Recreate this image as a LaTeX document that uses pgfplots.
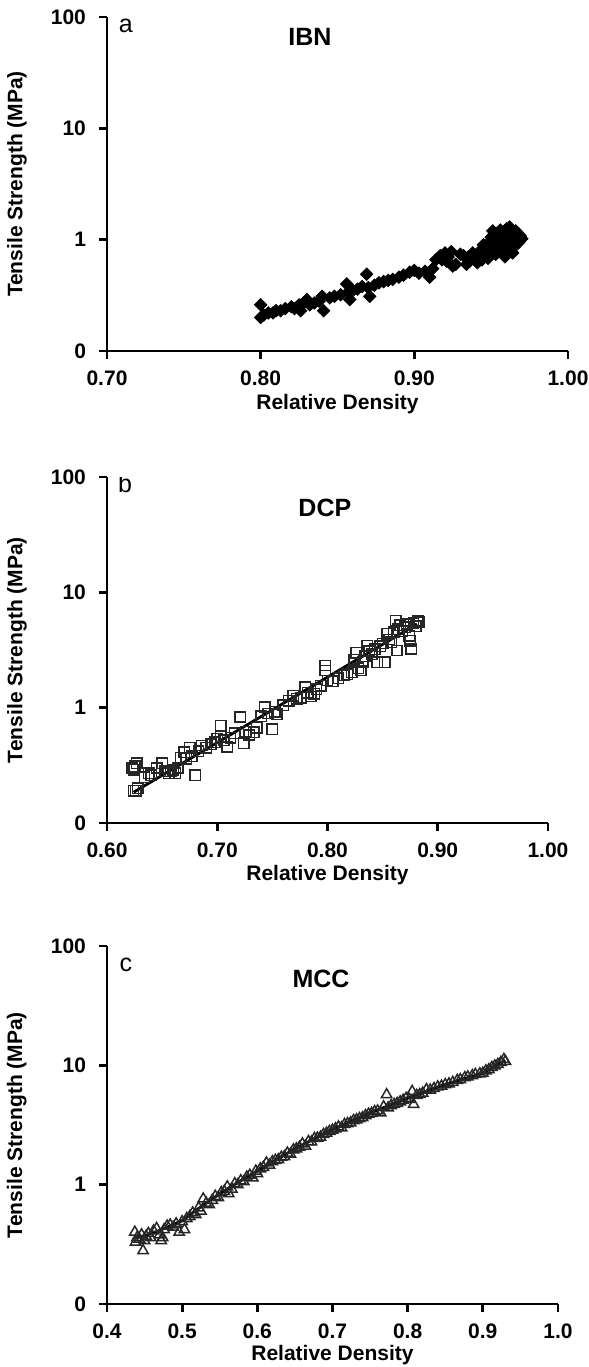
\documentclass[border=0pt]{standalone}
\usepackage{fontspec}
\setmainfont{Liberation Sans}
\usepackage{pgfplots}
\pgfplotsset{compat=1.18}

\pgfplotstableread{
x y
0.800 0.20
0.800 0.26
0.802 0.21
0.805 0.22
0.808 0.22
0.810 0.23
0.813 0.23
0.816 0.24
0.820 0.25
0.822 0.24
0.825 0.26
0.826 0.23
0.828 0.27
0.830 0.29
0.832 0.26
0.835 0.27
0.838 0.28
0.840 0.31
0.841 0.23
0.845 0.30
0.848 0.31
0.852 0.32
0.856 0.40
0.857 0.34
0.858 0.29
0.860 0.35
0.863 0.36
0.866 0.38
0.869 0.49
0.870 0.37
0.871 0.31
0.874 0.39
0.877 0.41
0.880 0.42
0.883 0.43
0.886 0.44
0.890 0.46
0.893 0.48
0.897 0.51
0.900 0.53
0.903 0.50
0.907 0.52
0.910 0.46
0.912 0.55
0.914 0.66
0.917 0.72
0.920 0.76
0.922 0.70
0.924 0.78
0.925 0.58
0.927 0.60
0.930 0.74
0.932 0.72
0.934 0.60
0.936 0.64
0.938 0.76
0.940 0.70
0.941 0.62
0.943 0.80
0.944 0.66
0.945 0.90
0.946 0.72
0.947 0.84
0.948 0.68
0.949 0.95
0.950 1.05
0.950 0.78
0.951 1.20
0.952 0.88
0.953 0.74
0.954 1.00
0.955 0.92
0.955 1.10
0.956 0.82
0.957 1.15
0.958 0.96
0.958 0.78
0.959 1.05
0.960 0.88
0.960 1.25
0.961 1.00
0.962 1.30
0.962 0.84
0.963 0.94
0.964 1.15
0.964 0.76
0.965 1.05
0.966 0.90
0.966 1.20
0.967 1.00
0.968 0.95
0.969 1.08
0.970 1.02
0.952 1.12
0.956 1.22
0.959 0.70
0.961 0.80
0.963 1.22
0.965 0.86
0.968 1.12
0.957 0.88
0.953 0.96
0.949 0.82
0.946 0.78
0.942 0.74
0.939 0.68
0.935 0.70
0.918 0.66
0.921 0.64
}\ibn

\pgfplotstableread{
x y
0.623 0.30
0.624 0.29
0.625 0.31
0.627 0.33
0.624 0.19
0.626 0.19
0.628 0.20
0.634 0.25
0.638 0.27
0.640 0.26
0.645 0.30
0.650 0.33
0.653 0.28
0.656 0.27
0.658 0.28
0.660 0.29
0.662 0.27
0.664 0.30
0.667 0.37
0.670 0.41
0.672 0.36
0.675 0.45
0.677 0.38
0.680 0.26
0.683 0.42
0.686 0.47
0.690 0.45
0.694 0.48
0.698 0.50
0.700 0.54
0.703 0.70
0.703 0.56
0.706 0.52
0.709 0.46
0.712 0.55
0.716 0.60
0.721 0.83
0.724 0.49
0.726 0.62
0.729 0.58
0.733 0.61
0.736 0.67
0.740 0.84
0.743 1.01
0.746 0.89
0.750 0.65
0.752 0.92
0.754 0.88
0.760 1.05
0.765 1.15
0.769 1.27
0.772 1.20
0.776 1.22
0.780 1.50
0.782 1.35
0.785 1.25
0.788 1.32
0.790 1.45
0.794 1.55
0.798 2.32
0.798 2.10
0.800 1.72
0.805 1.70
0.810 1.80
0.815 1.90
0.818 1.95
0.822 2.03
0.824 2.60
0.826 3.00
0.828 2.20
0.830 2.10
0.832 2.50
0.834 2.80
0.836 3.45
0.838 3.10
0.840 2.90
0.843 3.20
0.845 2.48
0.848 3.40
0.850 3.60
0.852 2.48
0.854 4.36
0.856 3.90
0.858 3.70
0.860 4.50
0.862 5.69
0.863 3.13
0.864 4.80
0.866 5.20
0.868 4.60
0.870 5.00
0.872 5.32
0.874 4.20
0.875 3.82
0.876 3.23
0.878 5.40
0.880 5.10
0.882 5.69
0.883 5.50
}\dcp

\pgfplotstableread{
x y
0.437 0.40
0.438 0.33
0.440 0.36
0.443 0.35
0.446 0.38
0.448 0.28
0.450 0.34
0.452 0.37
0.455 0.39
0.458 0.36
0.462 0.41
0.466 0.43
0.470 0.38
0.472 0.34
0.474 0.36
0.476 0.42
0.480 0.45
0.484 0.46
0.488 0.44
0.492 0.47
0.496 0.40
0.500 0.49
0.503 0.42
0.506 0.52
0.510 0.54
0.514 0.58
0.518 0.56
0.522 0.64
0.525 0.60
0.528 0.76
0.532 0.70
0.536 0.68
0.540 0.74
0.544 0.80
0.548 0.78
0.552 0.86
0.556 0.88
0.560 0.96
0.562 0.84
0.566 0.92
0.570 1.02
0.574 1.00
0.578 1.08
0.582 1.06
0.586 1.16
0.590 1.20
0.594 1.14
0.598 1.30
0.600 1.24
0.604 1.36
0.608 1.40
0.612 1.52
0.616 1.46
0.620 1.56
0.624 1.60
0.628 1.62
0.632 1.70
0.636 1.72
0.640 1.84
0.644 1.80
0.648 1.96
0.652 2.00
0.656 2.06
0.660 2.20
0.664 2.10
0.668 2.30
0.672 2.28
0.676 2.44
0.680 2.46
0.684 2.50
0.688 2.64
0.692 2.70
0.696 2.80
0.700 2.86
0.704 2.94
0.708 3.05
0.712 3.00
0.716 3.20
0.720 3.25
0.724 3.30
0.728 3.45
0.732 3.50
0.736 3.58
0.740 3.64
0.744 3.80
0.748 3.90
0.752 3.96
0.756 4.10
0.760 4.15
0.764 4.00
0.768 4.50
0.772 5.68
0.774 4.40
0.778 4.60
0.782 4.70
0.786 4.80
0.790 4.95
0.794 5.10
0.798 5.30
0.802 5.20
0.806 6.05
0.808 4.70
0.812 5.60
0.816 5.70
0.820 5.85
0.825 6.26
0.830 6.20
0.835 6.40
0.840 6.60
0.845 6.70
0.850 6.90
0.855 7.00
0.860 7.20
0.866 7.50
0.870 7.60
0.876 7.90
0.880 8.00
0.886 8.20
0.890 8.40
0.896 8.50
0.900 8.60
0.904 9.00
0.908 9.20
0.912 9.60
0.916 9.90
0.920 10.2
0.924 10.6
0.928 11.2
0.930 10.8
}\mcc

\pgfplotsset{
  panelsty/.style={
    scale only axis, anchor=south west,
    ytick={0.1,1,10,100}, yticklabels={0,1,10,100},
    yminorticks=false,
    axis x line*=bottom, axis y line*=left,
    axis line style={line width=1.4pt, -},
    tick align=outside, major tick length=4pt,
    major tick style={line width=1.4pt, black},
    ticklabel style={font=\bfseries\fontsize{10.5}{12}\selectfont},
    xticklabel style={yshift=-2.5pt},
    yticklabel style={xshift=-3pt},
    label style={font=\bfseries\fontsize{10.5}{12}\selectfont},
    xlabel={Relative Density},
    ylabel={Tensile Strength (MPa)},
    xlabel style={anchor=center},
    ylabel style={anchor=center},
  },
}
\tikzset{
  ttl/.style={font=\bfseries\fontsize{12.5}{14}\selectfont},
  tag/.style={font=\fontsize{12.5}{14}\selectfont},
}

\begin{document}
\begin{tikzpicture}
\useasboundingbox (0,0) rectangle (294.5pt,-683.5pt);

% (a) IBN
\begin{axis}[ymode=log, ymin=0.1, ymax=100, panelsty,
  at={(53.5pt,-175.5pt)}, width=230.5pt, height=167pt,
  xmin=0.7, xmax=1.0, xtick={0.7,0.8,0.9,1.0},
  xticklabels={0.70,0.80,0.90,1.00},
  xlabel style={at={(axis description cs:0.5,-0.159)}},
  ylabel style={at={(axis description cs:-0.195,0.5)}},
]
\addplot[only marks, mark=square*, mark size=2.2pt,
  mark options={rotate=45, fill=black, draw=black}] table {\ibn};
\node[tag] at (rel axis cs:0.041,0.973) {a};
\node[ttl] at (rel axis cs:0.44,0.94) {IBN};
\end{axis}

% (b) DCP
\begin{axis}[ymode=log, ymin=0.1, ymax=100, panelsty,
  at={(53.5pt,-411.5pt)}, width=220.5pt, height=173pt,
  xmin=0.6, xmax=1.0, xtick={0.6,0.7,0.8,0.9,1.0},
  xticklabels={0.60,0.70,0.80,0.90,1.00},
  xlabel style={at={(axis description cs:0.5,-0.151)}},
  ylabel style={at={(axis description cs:-0.204,0.5)}},
]
\addplot[only marks, mark=square, mark size=2.6pt,
  mark options={draw=black!85, line width=0.75pt}] table {\dcp};
\addplot[black, line width=1.4pt] coordinates {(0.6242,0.185) (0.8812,5.32)};
\node[tag] at (rel axis cs:0.041,0.98) {b};
\node[ttl] at (rel axis cs:0.494,0.91) {DCP};
\end{axis}

% (c) MCC
\begin{axis}[ymode=log, ymin=0.1, ymax=100, panelsty,
  at={(53.5pt,-652pt)}, width=225.5pt, height=179pt,
  xmin=0.4, xmax=1.0, xtick={0.4,0.5,0.6,0.7,0.8,0.9,1.0},
  xticklabels={0.4,0.5,0.6,0.7,0.8,0.9,1.0},
  xlabel style={at={(axis description cs:0.5,-0.142)}},
  ylabel style={at={(axis description cs:-0.2,0.5)}},
]
\addplot[black, line width=1.4pt] coordinates {
  (0.44,0.36) (0.46,0.39) (0.48,0.44) (0.50,0.50) (0.52,0.62) (0.55,0.84)
  (0.58,1.10) (0.60,1.30) (0.65,2.00) (0.70,2.90) (0.75,4.00) (0.80,5.30)
  (0.85,6.90) (0.90,8.60) (0.93,11.0)};
\addplot[only marks, mark=triangle, mark size=3pt,
  mark options={draw=black!85, line width=0.75pt}] table {\mcc};
\node[tag] at (rel axis cs:0.042,0.947) {c};
\node[ttl] at (rel axis cs:0.4745,0.908) {MCC};
\end{axis}
\end{tikzpicture}
\end{document}
